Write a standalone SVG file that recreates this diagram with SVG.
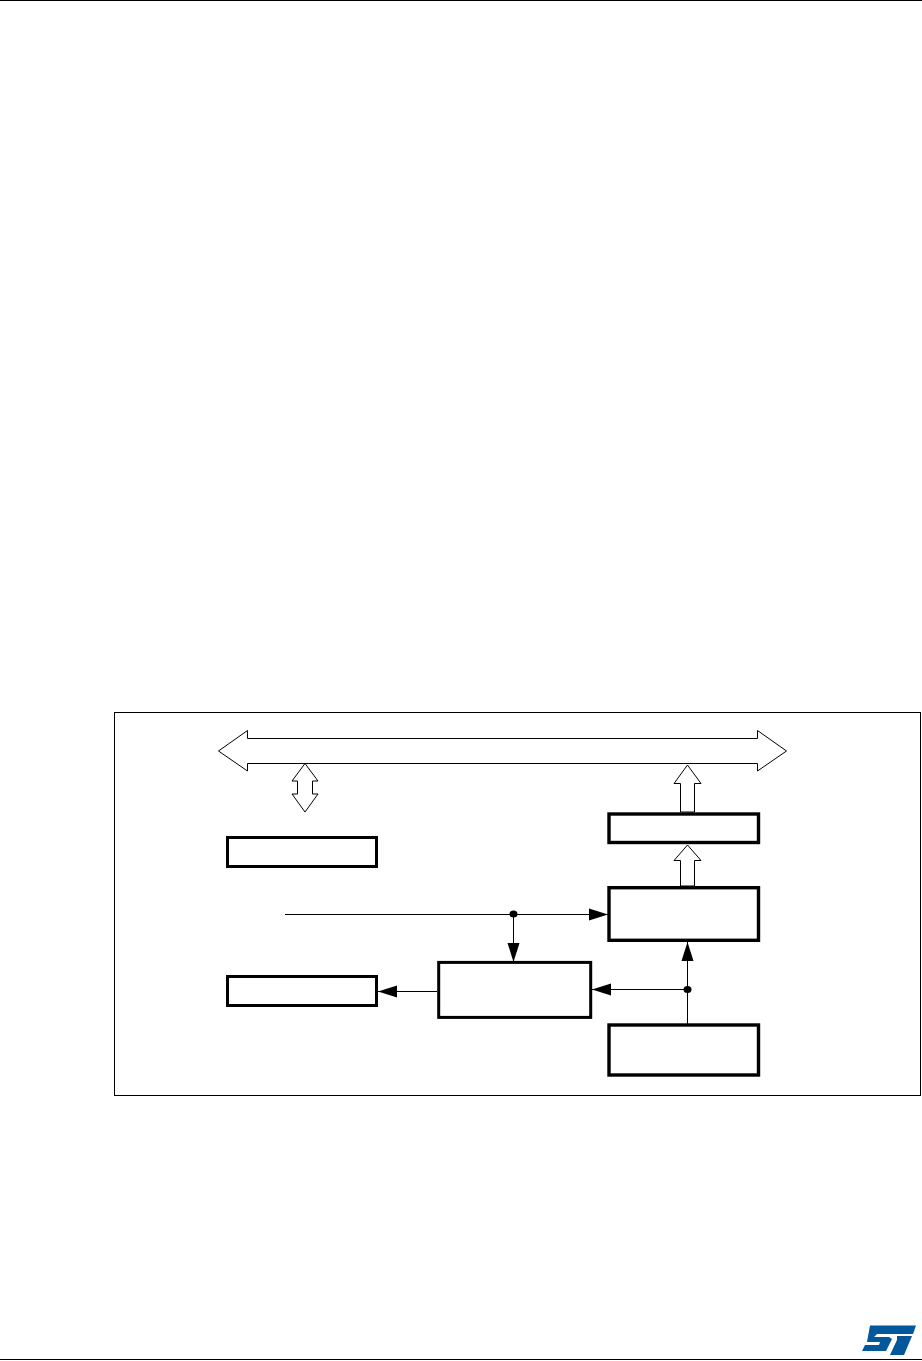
<svg xmlns="http://www.w3.org/2000/svg" width="922" height="1361" viewBox="0 0 922 1361">
<style>
.frame{fill:none;stroke:#000;stroke-width:1}
.box{fill:#fff;stroke:#000;stroke-width:3}
.boxr{fill:#fff;stroke:#000;stroke-width:3.4}
.hollow{fill:#fff;stroke:#000;stroke-width:1}
.wire{fill:none;stroke:#000;stroke-width:1}
.dot{fill:#000}
</style>
<defs>
<marker id="head" markerUnits="userSpaceOnUse" markerWidth="20" markerHeight="13" refX="19" refY="6.5" orient="auto"><path d="M0 0.5L19 6.5L0 12.5Z" fill="#000"/></marker>
</defs>
<rect width="922" height="1361" fill="#fff"/>
<path d="M0 0.5H922M0 1359.5H922" class="frame"/>
<rect id="outer-frame" class="frame" x="114.5" y="712.5" width="806" height="383"/>
<g id="connectors">
<path class="hollow" d="M218.5 751L247.5 730.5V738.5H757.5V730.5L786.5 751L757.5 771V763.5H247.5V771Z"/>
<path class="hollow" d="M305 763.5L318 781H312.5V794H318L305 812L292 794H297.5V781H292Z"/>
<path class="hollow" d="M687.5 765L701 783.5H694.5V812H680.5V783.5H674Z"/>
<path class="hollow" d="M687.5 845L701 860.5H694.5V886H680.5V860.5H674Z"/>
<path class="wire" d="M285 914.5H608" marker-end="url(#head)"/>
<path class="wire" d="M513.5 914.5V962" marker-end="url(#head)"/>
<path class="wire" d="M437 991.5H378" marker-end="url(#head)"/>
<path class="wire" d="M687.5 989.5H592" marker-end="url(#head)"/>
<path class="wire" d="M687.5 1024V942" marker-end="url(#head)"/>
<ellipse class="dot" cx="513.5" cy="914" rx="4" ry="3.5"/>
<ellipse class="dot" cx="687.5" cy="989.5" rx="4" ry="3.5"/>
</g>
<g id="box-a"><rect class="box" x="227.5" y="837.5" width="149" height="29"/></g>
<g id="box-b"><rect class="boxr" x="609" y="814" width="149.5" height="28.5"/></g>
<g id="box-c"><rect class="boxr" x="609" y="887.7" width="149.5" height="52.6"/></g>
<g id="box-d"><rect class="box" x="227.5" y="976.5" width="149" height="29"/></g>
<g id="box-e"><rect class="box" x="438.7" y="962.4" width="152" height="55"/></g>
<g id="box-f"><rect class="boxr" x="609" y="1025" width="149.5" height="50"/></g>
<g id="logo"><path fill="#03579b" d="M870 1325.5H916L913 1334H877L874 1337H889L892 1339L886 1351H862L865 1345H879L880 1342H867Z"/><path fill="#03579b" d="M897 1336H912L904 1355H890L897 1340Z"/></g>
</svg>
